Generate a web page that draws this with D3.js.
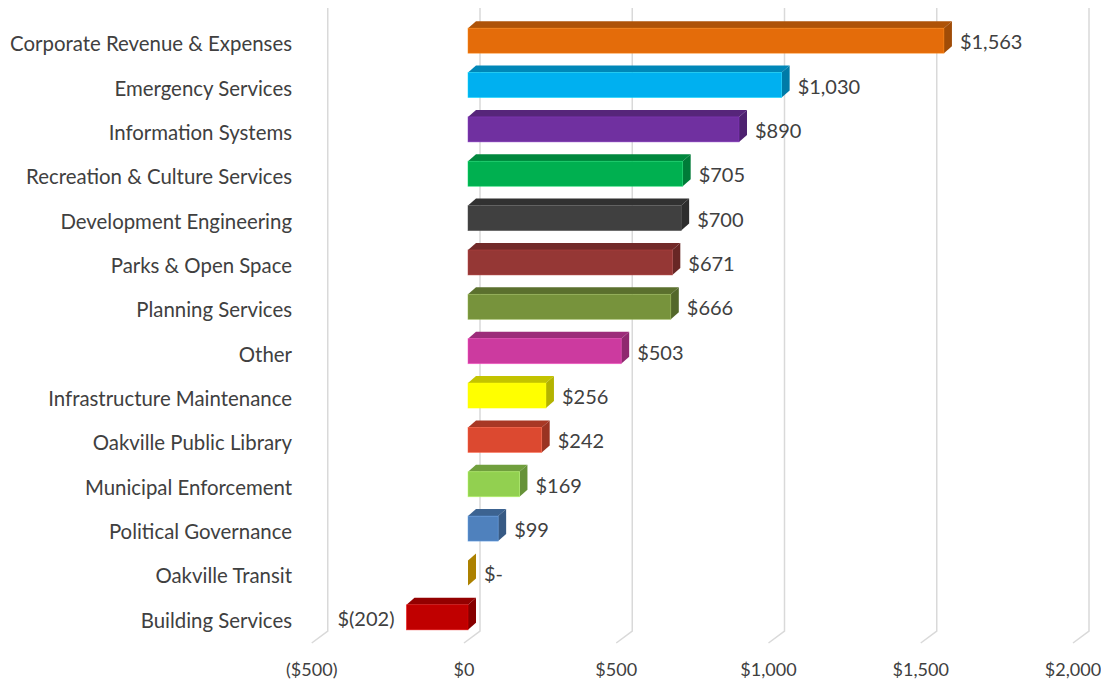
<!DOCTYPE html>
<html>
<head>
<meta charset="utf-8">
<script src="https://cdn.jsdelivr.net/npm/d3@7"></script>
<style>
  body { margin: 0; background: #fff; }
  text { font-family: Lato, "Open Sans", sans-serif; fill: #404040; }
</style>
</head>
<body>
<div id="chart"></div>
<script>
var categories = ["Corporate Revenue & Expenses", "Emergency Services", "Information Systems",
    "Recreation & Culture Services", "Development Engineering", "Parks & Open Space",
    "Planning Services", "Other", "Infrastructure Maintenance", "Oakville Public Library",
    "Municipal Enforcement", "Political Governance", "Oakville Transit", "Building Services"];
var values = [1563, 1030, 890, 705, 700, 671, 666, 503, 256, 242, 169, 99, 0, -202];
var valueLabels = ["$1,563", "$1,030", "$890", "$705", "$700", "$671", "$666", "$503",
    "$256", "$242", "$169", "$99", "$-", "$(202)"];
var colors = ["#E46C0A", "#00B0F0", "#7030A0", "#00B050", "#404040", "#953735", "#77933C",
    "#CC3A9F", "#FFFF00", "#DC4930", "#92D050", "#4F81BD", "#BF9000", "#C00000"];
var ticks = [-500, 0, 500, 1000, 1500, 2000];
var tickLabels = ["($500)", "$0", "$500", "$1,000", "$1,500", "$2,000"];

var width = 1101, height = 680;
var depthX = 8, depthY = -7;

var svg = d3.select("#chart").append("svg")
    .attr("width", width)
    .attr("height", height);

// front plane of the bars
var x = d3.scaleLinear().domain([-500, 2000]).range([315.75, 1077]);
var y = d3.scaleBand().domain(categories).range([22, 643]);

function rowC(c) { return y(c) + y.bandwidth() / 2; }

/* gridlines: back wall + floor edge */
var grid = svg.append("g").attr("class", "grid");
grid.selectAll("path")
    .data(ticks)
    .enter().append("path")
    .attr("d", function(d) {
        var gx = x(d) + 12;
        return "M" + gx + ",8L" + gx + ",631L" + (gx - 16) + ",643";
    })
    .attr("fill", "none")
    .attr("stroke", "#d9d9d9")
    .attr("stroke-width", 1.5);

grid.selectAll("text")
    .data(ticks)
    .enter().append("text")
    .attr("x", function(d) { return x(d) - 4; })
    .attr("y", 676)
    .attr("text-anchor", "middle")
    .attr("font-size", "18px")
    .text(function(d, i) { return tickLabels[i]; });

/* bars */
var data = categories.map(function(c, i) {
    return { cat: c, value: values[i], label: valueLabels[i], color: colors[i] };
});

var bars = svg.append("g").attr("class", "bars")
    .selectAll("g")
    .data(data)
    .enter().append("g");

function barBox(d) {
    var c = rowC(d.cat);
    return {
        x0: x(Math.min(0, d.value)),
        x1: x(Math.max(0, d.value)),
        yT: c - 16,
        yB: c + 9
    };
}

// top face
bars.append("path")
    .attr("d", function(d) {
        var b = barBox(d);
        return "M" + b.x0 + "," + b.yT + "L" + (b.x0 + depthX) + "," + (b.yT + depthY) +
            "L" + (b.x1 + depthX) + "," + (b.yT + depthY) + "L" + b.x1 + "," + b.yT + "Z";
    })
    .attr("fill", function(d) { return d3.color(d.color).darker(0.75); });

// side face
bars.append("path")
    .attr("d", function(d) {
        var b = barBox(d);
        return "M" + b.x1 + "," + b.yT + "L" + (b.x1 + depthX) + "," + (b.yT + depthY) +
            "L" + (b.x1 + depthX) + "," + (b.yB + depthY) + "L" + b.x1 + "," + b.yB + "Z";
    })
    .attr("fill", function(d) { return d3.color(d.color).darker(d.value === 0 ? 0.3 : 1.0); });

// front face
bars.append("rect")
    .attr("x", function(d) { return barBox(d).x0; })
    .attr("y", function(d) { return barBox(d).yT; })
    .attr("width", function(d) { var b = barBox(d); return b.x1 - b.x0; })
    .attr("height", function(d) { var b = barBox(d); return b.yB - b.yT; })
    .attr("fill", function(d) { return d.color; })
    .attr("stroke", function(d) { return d3.color(d.color).brighter(0.6); })
    .attr("stroke-opacity", 0.6)
    .attr("stroke-width", function(d) { return d.value === 0 ? 0 : 0.8; });

// value labels
bars.append("text")
    .attr("x", function(d) { return d.value < 0 ? x(d.value) - 12 : x(d.value) + 16; })
    .attr("y", function(d) { return rowC(d.cat) + 5; })
    .attr("text-anchor", function(d) { return d.value < 0 ? "end" : "start"; })
    .attr("font-size", "20px")
    .text(function(d) { return d.label; });

/* category labels */
svg.append("g").attr("class", "cats")
    .selectAll("text")
    .data(categories)
    .enter().append("text")
    .attr("x", 292)
    .attr("y", function(d) { return rowC(d) + 7; })
    .attr("text-anchor", "end")
    .attr("font-size", "20.4px")
    .text(function(d) { return d; });
</script>
</body>
</html>
